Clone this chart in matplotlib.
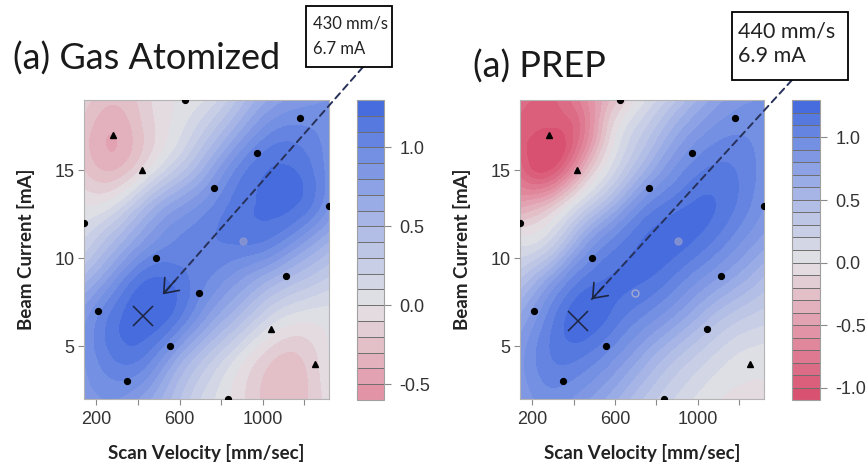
import numpy as np
import matplotlib
matplotlib.use('Agg')
import matplotlib.pyplot as plt
from matplotlib.colors import LinearSegmentedColormap, Normalize
from matplotlib.patches import Rectangle
from matplotlib.ticker import FormatStrFormatter
from matplotlib.tri import Triangulation, UniformTriRefiner, CubicTriInterpolator

plt.rcParams['axes.unicode_minus'] = False

W, H = 868, 465  # output size in pixels (dpi 100)

#%% design points, same build matrix for both powders
vel_pts = [626, 279, 418, 1181, 973, 765, 1320, 140, 904, 487, 1112, 695, 209, 1043, 556, 1251, 348, 834]
cur_pts = [19, 17, 15, 18, 16, 14, 13, 12, 11, 10, 9, 8, 7, 6, 5, 4, 3, 2]
# o = dot, ^ = triangle, f = faded dot, h = faded hollow dot
ga_kind = ['o', '^', '^', 'o', 'o', 'o', 'o', 'o', 'f', 'o', 'o', 'o', 'o', '^', 'o', '^', 'o', 'o']
prep_kind = ['o', '^', '^', 'o', 'o', 'o', 'o', 'o', 'f', 'o', 'o', 'h', 'o', 'o', 'o', '^', 'o', 'o']

#%% fitted response on a coarse grid (rows: current, cols: velocity)
grid_vel = [140, 290, 430, 580, 730, 880, 1030, 1180, 1320]
grid_cur = [2, 4.5, 6.7, 9, 11, 13, 15, 17, 19]

ga_z = [
    [0.85, 0.90, 0.75, 0.45, 0.15, -0.05, -0.25, -0.25, -0.05],
    [0.90, 1.12, 1.10, 0.75, 0.40, 0.10, -0.15, -0.20, 0.00],
    [0.85, 1.15, 1.28, 1.15, 0.80, 0.50, 0.20, 0.05, 0.05],
    [0.50, 0.85, 1.15, 1.15, 1.02, 0.85, 0.65, 0.45, 0.30],
    [0.20, 0.50, 0.80, 1.00, 1.08, 1.12, 1.08, 0.85, 0.60],
    [0.00, 0.10, 0.45, 0.75, 0.95, 1.15, 1.22, 1.18, 0.90],
    [-0.20, -0.30, -0.05, 0.30, 0.65, 1.02, 1.20, 1.18, 0.95],
    [-0.25, -0.40, -0.20, 0.05, 0.35, 0.70, 1.00, 1.05, 0.95],
    [-0.15, -0.28, -0.15, 0.00, 0.10, 0.40, 0.70, 0.85, 0.90],
]

prep_z = [
    [0.80, 0.95, 0.85, 0.65, 0.40, 0.20, 0.05, -0.02, 0.00],
    [0.85, 1.10, 1.12, 0.95, 0.70, 0.45, 0.25, 0.10, 0.05],
    [0.70, 1.05, 1.27, 1.18, 1.00, 0.80, 0.55, 0.35, 0.25],
    [0.35, 0.70, 1.05, 1.20, 1.22, 1.10, 0.90, 0.70, 0.50],
    [0.05, 0.20, 0.65, 1.00, 1.20, 1.25, 1.15, 0.95, 0.75],
    [-0.45, -0.25, 0.15, 0.55, 0.95, 1.15, 1.22, 1.10, 0.90],
    [-0.85, -1.00, -0.45, 0.12, 0.55, 0.90, 1.10, 1.10, 0.95],
    [-0.95, -1.05, -0.80, -0.10, 0.30, 0.65, 0.90, 1.00, 0.95],
    [-0.85, -0.92, -0.70, -0.30, 0.05, 0.35, 0.65, 0.85, 0.90],
]

#%% optimum and call-outs
opt_vel = [425, 420]
opt_cur = [6.7, 6.45]
tip_vel = [520, 487]
tip_cur = [7.95, 7.67]
opt_label = ['430 mm/s\n6.7 mA', '440 mm/s\n6.9 mA']
titles = ['(a) Gas Atomized', '(a) PREP']
cbar_lo = [-0.6, -1.1]
cbar_hi = 1.3
cbar_ticks = [-1.0, -0.5, 0.0, 0.5, 1.0]

cmap_vals = [-1.1, -0.5, 0.0, 0.5, 1.0, 1.3]
cmap_cols = ['#d84b6b', '#e39bac', '#e3e3e5', '#aebae6', '#6d8be2', '#3f66dd']

vmin, vmax = cmap_vals[0], cmap_vals[-1]
cmap = LinearSegmentedColormap.from_list(
    'rb', [((v - vmin) / (vmax - vmin), c) for v, c in zip(cmap_vals, cmap_cols)])
norm = Normalize(vmin, vmax)


def px(x0, y0, w, h):
    """pixel box (top-left origin) -> figure fraction"""
    return [x0 / W, 1 - (y0 + h) / H, w / W, h / H]


def smooth_field(z, subdiv=4):
    gv, gc = np.meshgrid(grid_vel, grid_cur)
    z = np.asarray(z, float).ravel()
    u = (gv - gv.min()) / np.ptp(gv)
    v = (gc - gc.min()) / np.ptp(gc)
    nr, nc = gv.shape
    tris = []
    for i in range(nr - 1):
        for j in range(nc - 1):
            k = i * nc + j
            tris.append([k, k + 1, k + nc + 1])
            tris.append([k, k + nc + 1, k + nc])
    tri = Triangulation(u.ravel(), v.ravel(), np.array(tris))
    interp = CubicTriInterpolator(tri, z, kind='min_E')
    rtri, rz = UniformTriRefiner(tri).refine_field(z, triinterpolator=interp, subdiv=subdiv)
    x = gv.min() + rtri.x * np.ptp(gv)
    y = gc.min() + rtri.y * np.ptp(gc)
    return Triangulation(x, y, rtri.triangles), rz


fig = plt.figure(figsize=(W / 100, H / 100), dpi=100)

panels = [
    dict(z=ga_z, kind=ga_kind, ax=px(84, 100, 245, 299), cax=px(357, 100, 27, 300),
         title=(13, 70, 26), box=(306, 6, 86, 61), txt=(313, 36.5, 12, 1.75), anchor=(363, 67)),
    dict(z=prep_z, kind=prep_kind, ax=px(520, 100, 244, 299), cax=px(792, 100, 28, 300),
         title=(473, 78, 26), box=(732, 12, 116, 68), txt=(738, 44, 15.5, 1.3), anchor=(792, 80)),
]

for n, p in enumerate(panels):
    ax = fig.add_axes(p['ax'])
    cax = fig.add_axes(p['cax'])

    levels = np.round(np.arange(cbar_lo[n], cbar_hi + 0.001, 0.1), 2)
    tri, zf = smooth_field(p['z'])
    zf = np.clip(zf, levels[0] + 1e-6, levels[-1] - 1e-6)
    cs = ax.tricontourf(tri, zf, levels=levels, cmap=cmap, norm=norm)

    # design points
    for v, c, k in zip(vel_pts, cur_pts, p['kind']):
        if k == 'o':
            ax.plot(v, c, 'o', ms=4.2, color='black', zorder=3)
        elif k == '^':
            ax.plot(v, c, '^', ms=4.8, color='black', zorder=3)
        elif k == 'f':
            ax.plot(v, c, 'o', ms=5, color='#8d97cf', alpha=0.8, zorder=3)
        else:
            ax.plot(v, c, 'o', ms=5, mfc='none', mec='#a3a9cf', mew=1, zorder=3)

    ax.plot(opt_vel[n], opt_cur[n], marker='x', ms=15, mew=1.1, color='#1d2540', zorder=4)

    ax.set_xlim(grid_vel[0], grid_vel[-1])
    ax.set_ylim(grid_cur[0], grid_cur[-1])
    ax.set_xticks([200, 600, 1000])
    ax.set_xticks([400, 800, 1200], minor=True)
    ax.set_yticks([5, 10, 15])
    ax.tick_params(which='both', direction='out', length=4, width=0.8, color='#8a8a8a',
                   labelsize=13, labelcolor='#333333', pad=3)
    ax.tick_params(axis='x', which='both', pad=5)
    for lab in ax.get_xticklabels() + ax.get_yticklabels():
        lab.set_family('Liberation Sans')
    for s in ax.spines.values():
        s.set_color('#b4b4b4')
        s.set_linewidth(0.8)

    ax.set_xlabel('Scan Velocity [mm/sec]', family='Lato', fontweight='bold', fontsize=13.5,
                  color='#222222', labelpad=11)
    ax.set_ylabel('Beam Current [mA]', family='Lato', fontweight='bold', fontsize=13.5,
                  color='#222222', labelpad=14)

    # colorbar
    cb = fig.colorbar(cs, cax=cax, drawedges=True)
    cb.dividers.set_color('#6e6e6e')
    cb.dividers.set_linewidth(0.7)
    cb.outline.set_edgecolor('#a0a0a0')
    cb.outline.set_linewidth(0.8)
    cb.set_ticks([t for t in cbar_ticks if levels[0] <= t <= levels[-1]])
    cb.ax.yaxis.set_major_formatter(FormatStrFormatter('%.1f'))
    cb.ax.tick_params(direction='out', length=5, width=0.8, color='#8a8a8a',
                      labelsize=13, labelcolor='#333333', pad=6)
    for lab in cb.ax.get_yticklabels():
        lab.set_family('Liberation Sans')

    # title
    tx, ty, tfs = p['title']
    fig.text(tx / W, 1 - ty / H, titles[n], family='Lato', fontsize=tfs, color='#1a1a1a',
             va='baseline', ha='left')

    # call-out box with dashed arrow to the optimum
    bx, by, bw, bh = p['box']
    fig.patches.append(Rectangle((bx / W, 1 - (by + bh) / H), bw / W, bh / H,
                                 transform=fig.transFigure, fill=True, facecolor='white',
                                 edgecolor='black', linewidth=1.3))
    lx, ly, lfs, lsp = p['txt']
    fig.text(lx / W, 1 - ly / H, opt_label[n], family='Lato', fontsize=lfs, color='#222222',
             va='center', ha='left', linespacing=lsp)

    ancx, ancy = p['anchor']
    start = np.array([ancx, H - ancy], float)
    tip = (tip_vel[n], tip_cur[n])
    ax.annotate('', xy=tip, xycoords='data', xytext=start, textcoords='figure pixels',
                annotation_clip=False,
                arrowprops=dict(arrowstyle='-', linestyle=(0, (3.5, 2.5)), lw=1.4,
                                color='#27315a', shrinkA=0, shrinkB=0))
    tp = ax.transData.transform(tip)
    d = (start - tp) / np.hypot(*(start - tp))
    ax.annotate('', xy=tip, xycoords='data', xytext=tuple(d * 18), textcoords='offset pixels',
                arrowprops=dict(arrowstyle='->,head_length=0.45,head_width=0.35', lw=1.2,
                                color='#1d2540', shrinkA=0, shrinkB=0, mutation_scale=20))

fig.savefig('out.png', dpi=100)
